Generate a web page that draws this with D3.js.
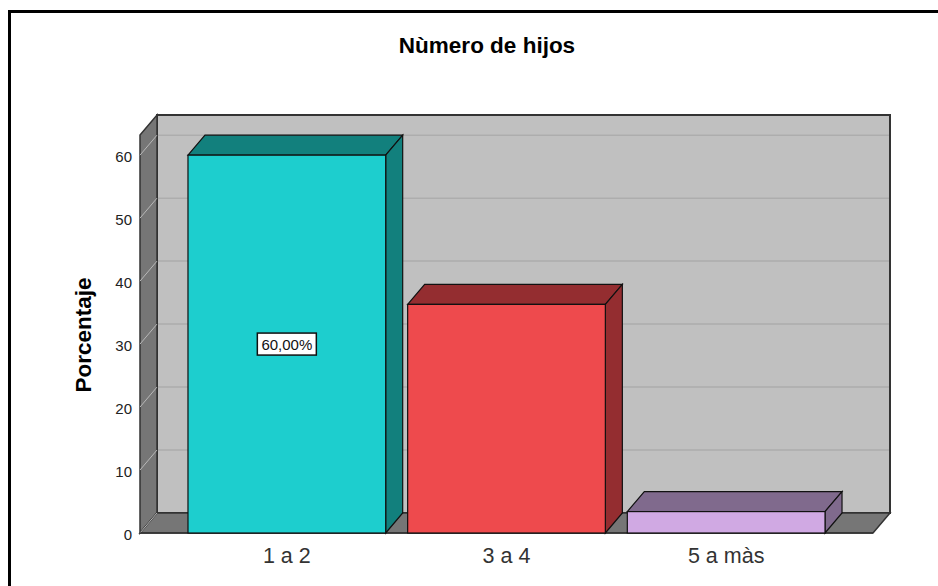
<!DOCTYPE html>
<html>
<head>
<meta charset="utf-8">
<script src="https://d3js.org/d3.v7.min.js" charset="utf-8"></script>
<style type="text/css">
	body {
		margin: 0;
		background-color: white;
		font-family: "Liberation Sans", Arial, sans-serif;
	}
</style>
</head>
<body>
<script>
// data
var categories = ["1 a 2", "3 a 4", "5 a màs"];
var percentages = [60, 36.3, 3.4];
var yTicks = [0, 10, 20, 30, 40, 50, 60];
var labelText = ["60,00%", null, null];
var frontColors = ["#1DCECE", "#EE4A4D", "#D0A9E3"];
var sideColors = ["#12807D", "#942D30", "#806A8D"];

var w = 938, h = 586;
var dx = 17, dy = 20; // depth of the 3d effect
var pLeft = 140, pRight = 873, pBottom = 533, pTop = 135;

var svg = d3.select("body")
	.append("svg")
	.attr("width", w)
	.attr("height", h);

var y = d3.scaleLinear().domain([0, 63.2]).range([pBottom, pTop]);
var x = d3.scaleBand().domain(categories).range([177, 836])
	.paddingInner(0.1).paddingOuter(0.05);

// outer frame
svg.append("path")
	.attr("d", "M9.5," + h + "V11.5H" + w)
	.attr("fill", "none")
	.attr("stroke", "black")
	.attr("stroke-width", 3);

// title
svg.append("text")
	.attr("x", 487)
	.attr("y", 53)
	.attr("text-anchor", "middle")
	.attr("font-weight", "bold")
	.attr("font-size", 22.5)
	.text("Nùmero de hijos");

// back wall
svg.append("rect")
	.attr("x", pLeft + dx)
	.attr("y", pTop - dy)
	.attr("width", pRight - pLeft)
	.attr("height", pBottom - pTop)
	.attr("fill", "#C0C0C0");

// gridlines on back wall
svg.selectAll(".grid")
	.data(yTicks.slice(1))
	.enter()
	.append("line")
	.attr("x1", pLeft + dx)
	.attr("x2", pRight + dx)
	.attr("y1", function(d) {return y(d) - dy})
	.attr("y2", function(d) {return y(d) - dy})
	.attr("stroke", "#ADADAD")
	.attr("stroke-width", 1.5);

svg.append("rect")
	.attr("x", pLeft + dx)
	.attr("y", pTop - dy)
	.attr("width", pRight - pLeft)
	.attr("height", pBottom - pTop)
	.attr("fill", "none")
	.attr("stroke", "#333")
	.attr("stroke-width", 2);

// left wall
svg.append("path")
	.attr("d", "M" + pLeft + "," + pBottom + "L" + pLeft + "," + pTop +
		"L" + (pLeft + dx) + "," + (pTop - dy) + "L" + (pLeft + dx) + "," + (pBottom - dy) + "Z")
	.attr("fill", "#767676")
	.attr("stroke", "#333")
	.attr("stroke-width", 1.5);

// floor
svg.append("path")
	.attr("d", "M" + pLeft + "," + pBottom + "L" + pRight + "," + pBottom +
		"L" + (pRight + dx) + "," + (pBottom - dy) + "L" + (pLeft + dx) + "," + (pBottom - dy) + "Z")
	.attr("fill", "#767676")
	.attr("stroke", "#333")
	.attr("stroke-width", 1.5);

// diagonal grid on left wall
svg.selectAll(".diag")
	.data(yTicks)
	.enter()
	.append("line")
	.attr("x1", pLeft)
	.attr("x2", pLeft + dx)
	.attr("y1", function(d) {return y(d)})
	.attr("y2", function(d) {return y(d) - dy})
	.attr("stroke", "#B8B8B8")
	.attr("stroke-width", 1);

// front axis line
svg.append("line")
	.attr("x1", pLeft).attr("x2", pRight)
	.attr("y1", pBottom).attr("y2", pBottom)
	.attr("stroke", "#333")
	.attr("stroke-width", 1.5);

// tick labels
svg.selectAll(".tick")
	.data(yTicks)
	.enter()
	.append("text")
	.attr("x", 132)
	.attr("y", function(d) {return y(d) + 7})
	.attr("text-anchor", "end")
	.attr("font-size", 15)
	.attr("fill", "#222")
	.text(function(d) {return d});

// axis title
svg.append("text")
	.attr("transform", "translate(91,335) rotate(-90)")
	.attr("text-anchor", "middle")
	.attr("font-weight", "bold")
	.attr("font-size", 22.5)
	.text("Porcentaje");

// bars
var bars = svg.selectAll(".bar")
	.data(percentages)
	.enter()
	.append("g");

// top face
bars.append("path")
	.attr("d", function(d, i) {
		var x0 = x(categories[i]), x1 = x0 + x.bandwidth(), yt = y(d);
		return "M" + x0 + "," + yt + "L" + (x0 + dx) + "," + (yt - dy) +
			"L" + (x1 + dx) + "," + (yt - dy) + "L" + x1 + "," + yt + "Z";
	})
	.attr("fill", function(d, i) {return sideColors[i]})
	.attr("stroke", "#111")
	.attr("stroke-width", 1.2);

// side face
bars.append("path")
	.attr("d", function(d, i) {
		var x1 = x(categories[i]) + x.bandwidth(), yt = y(d);
		return "M" + x1 + "," + yt + "L" + (x1 + dx) + "," + (yt - dy) +
			"L" + (x1 + dx) + "," + (pBottom - dy) + "L" + x1 + "," + pBottom + "Z";
	})
	.attr("fill", function(d, i) {return sideColors[i]})
	.attr("stroke", "#111")
	.attr("stroke-width", 1.2);

// front face
bars.append("rect")
	.attr("x", function(d, i) {return x(categories[i])})
	.attr("y", function(d) {return y(d)})
	.attr("width", x.bandwidth())
	.attr("height", function(d) {return pBottom - y(d)})
	.attr("fill", function(d, i) {return frontColors[i]})
	.attr("stroke", "#111")
	.attr("stroke-width", 1.2);

// data label
labelText.forEach(function(t, i) {
	if (!t) return;
	var cx = x(categories[i]) + x.bandwidth() / 2;
	var cy = y(percentages[i] / 2);
	var g = svg.append("g");
	g.append("rect")
		.attr("x", cx - 29.5)
		.attr("y", cy - 11)
		.attr("width", 59)
		.attr("height", 22)
		.attr("fill", "white")
		.attr("stroke", "#111")
		.attr("stroke-width", 1.5);
	g.append("text")
		.attr("x", cx)
		.attr("y", cy + 5.5)
		.attr("text-anchor", "middle")
		.attr("font-size", 15)
		.attr("fill", "#111")
		.text(t);
});

// category labels
svg.selectAll(".cat")
	.data(categories)
	.enter()
	.append("text")
	.attr("x", function(d) {return x(d) + x.bandwidth() / 2})
	.attr("y", 563)
	.attr("text-anchor", "middle")
	.attr("font-size", 21.5)
	.attr("fill", "#333")
	.text(function(d) {return d});
</script>
</body>
</html>
